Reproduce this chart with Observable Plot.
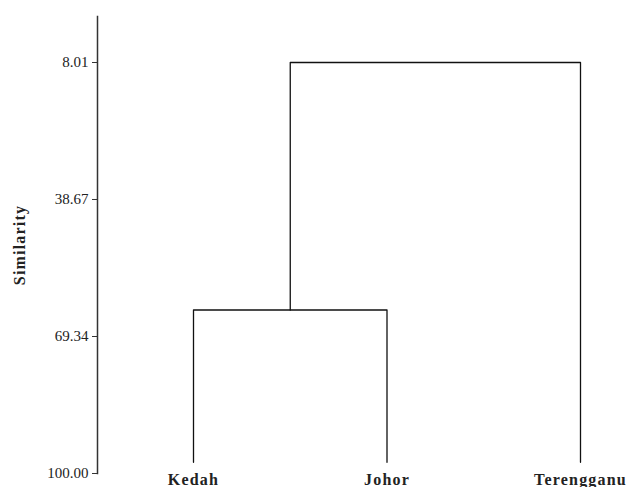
<!DOCTYPE html>
<html>
<head>
<meta charset="utf-8">
<script src="https://cdn.jsdelivr.net/npm/d3@7"></script>
<script src="https://cdn.jsdelivr.net/npm/@observablehq/plot@0.6"></script>
<style>
  html, body { margin: 0; padding: 0; background: #fff; }
  #chart svg { display: block; }
  #chart g[aria-label="x-axis tick label"] text { letter-spacing: 1.2px; }
  #chart g[aria-label="y-axis label"] text { font-weight: bold; font-size: 16px; letter-spacing: 1.2px; }
</style>
</head>
<body>
<div id="chart"></div>
<script>
// Leaves of the dendrogram, left to right
const leaves = ["Kedah", "Johor", "Terengganu"];
// Similarity level where the leaf stems end
const leafSimilarity = 97.5;
// Agglomeration steps: the two clusters joined and their similarity
const mergeLeft = ["Kedah", "Kedah+Johor"];
const mergeRight = ["Johor", "Terengganu"];
const mergeSimilarity = [63.4, 8.01];
// Axis tick values
const similarityTicks = [8.01, 38.67, 69.34, 100.0];

// Position (leaf index) and height of every node
const nodes = new Map(leaves.map((name, i) => [name, {x: i, y: leafSimilarity}]));
const segments = [];
mergeLeft.forEach((left, k) => {
  const a = nodes.get(left), b = nodes.get(mergeRight[k]), s = mergeSimilarity[k];
  segments.push(
    {k, x: a.x, y: a.y}, {k, x: a.x, y: s},
    {k, x: b.x, y: s}, {k, x: b.x, y: b.y}
  );
  nodes.set(left + "+" + mergeRight[k], {x: (a.x + b.x) / 2, y: s});
});

const chart = Plot.plot({
  width: 630,
  height: 487,
  marginLeft: 97,
  marginRight: 0,
  marginTop: 16,
  marginBottom: 14,
  style: {fontFamily: "'Liberation Serif', 'Times New Roman', serif", fontSize: "15px", color: "#222", background: "#fff"},
  x: {domain: [0, leaves.length - 1], insetLeft: 96, insetRight: 50},
  y: {domain: [100, 8.01], insetTop: 46},
  marks: [
    Plot.frame({anchor: "left", stroke: "#333", strokeWidth: 1.5}),
    Plot.axisY({
      ticks: similarityTicks,
      tickFormat: d => d.toFixed(2),
      tickSize: 5,
      tickPadding: 4,
      stroke: "#333",
      fontSize: 15,
      label: "Similarity",
      labelAnchor: "center",
      labelArrow: "none",
      labelOffset: 84
    }),
    Plot.axisX({
      ticks: leaves.map((_, i) => i),
      tickFormat: i => leaves[i],
      tickSize: 0,
      tickPadding: 0,
      fontSize: 16,
      fontWeight: "bold",
      label: null
    }),
    Plot.line(segments, {x: "x", y: "y", z: "k", stroke: "#111", strokeWidth: 1.3, curve: "linear"})
  ]
});

document.getElementById("chart").append(chart);
</script>
</body>
</html>
